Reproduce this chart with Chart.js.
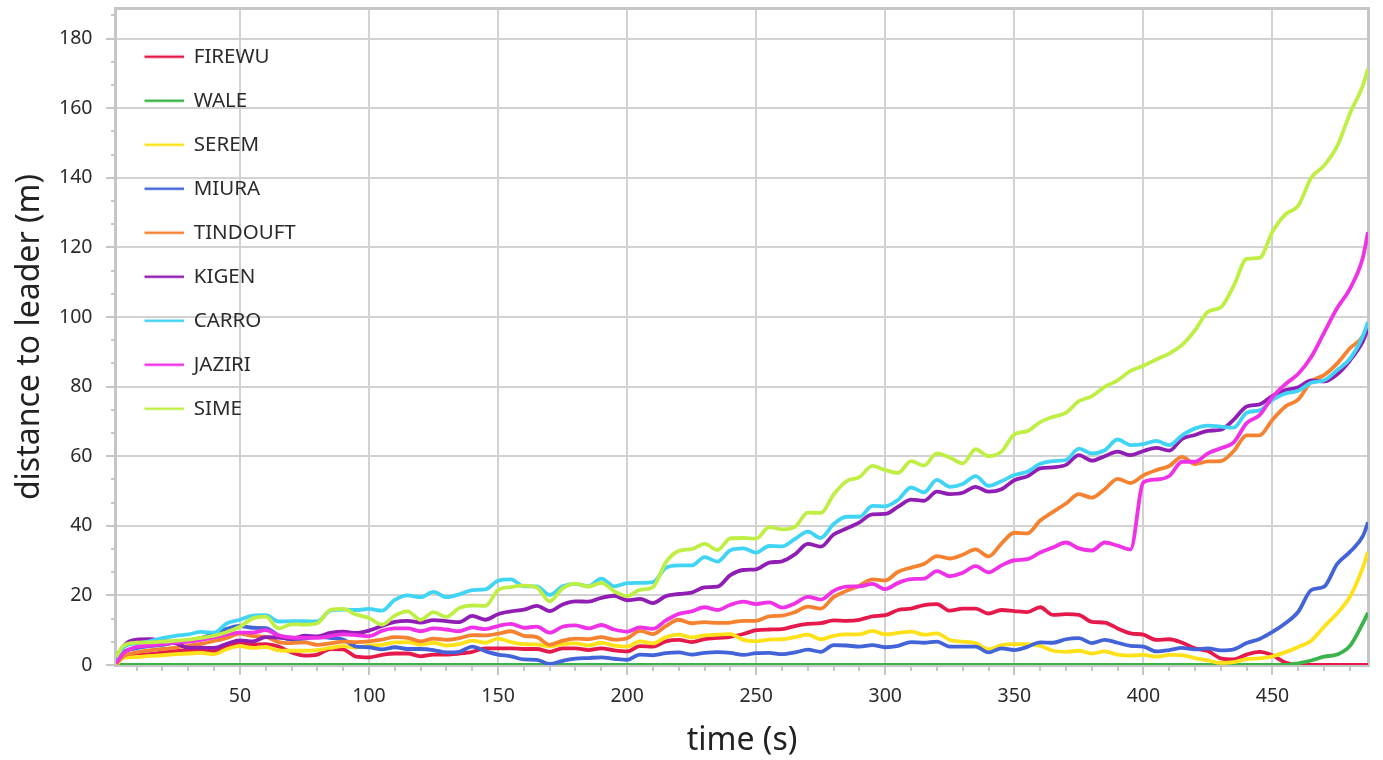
<!DOCTYPE html>
<html>
<head>
<meta charset="utf-8">
<script src="https://cdn.jsdelivr.net/npm/chart.js@4.4.1/dist/chart.umd.min.js"></script>
<style>
  html, body { margin: 0; padding: 0; background: #ffffff; }
  #wrap { width: 1383px; height: 760px; }
</style>
</head>
<body>
<div id="wrap"><canvas id="c" width="1383" height="760"></canvas></div>
<script>
// ---- data (time in s, distance to leader in m) ----
const times = [2, 5, 10, 15, 20, 25, 30, 35, 40, 45,
  50, 55, 60, 65, 70, 75, 80, 85, 90, 95,
  100, 105, 110, 115, 120, 125, 130, 135, 140, 145,
  150, 155, 160, 165, 170, 175, 180, 185, 190, 195,
  200, 205, 210, 215, 220, 225, 230, 235, 240, 245,
  250, 255, 260, 265, 270, 275, 280, 285, 290, 295,
  300, 305, 310, 315, 320, 325, 330, 335, 340, 345,
  350, 355, 360, 365, 370, 375, 380, 385, 390, 395,
  400, 405, 410, 415, 420, 425, 430, 435, 440, 445,
  450, 455, 460, 465, 470, 475, 480, 485, 487];

const FIREWU = [0.5, 2.5, 2.8, 3.1, 3.6, 4.0, 4.2, 4.4, 4.0, 5.2,
  6.5, 5.8, 6.0, 5.3, 3.6, 2.7, 3.0, 4.6, 4.5, 2.4,
  2.2, 2.9, 3.3, 3.3, 2.5, 3.0, 3.0, 3.3, 3.8, 4.8,
  4.8, 4.8, 4.6, 4.6, 3.8, 4.8, 4.8, 4.3, 4.8, 4.2,
  3.9, 5.4, 5.3, 6.8, 7.2, 6.6, 7.4, 7.8, 8.1, 8.9,
  10.0, 10.2, 10.3, 11.2, 11.8, 12.0, 12.8, 12.7, 13.0, 14.0,
  14.3, 15.8, 16.2, 17.2, 17.5, 15.6, 16.2, 16.2, 14.8, 15.8,
  15.5, 15.2, 16.6, 14.4, 14.6, 14.4, 12.4, 12.2, 10.5, 9.1,
  8.7, 7.2, 7.4, 6.4, 4.8, 4.0, 1.9, 1.6, 3.0, 3.8,
  2.8, 0.7, 0, 0, 0, 0, 0, 0, 0];

const WALE = [0, 0, 0, 0, 0, 0, 0, 0, 0, 0,
  0, 0, 0, 0, 0, 0, 0, 0, 0, 0,
  0, 0, 0, 0, 0, 0, 0, 0, 0, 0,
  0, 0, 0, 0, 0, 0, 0, 0, 0, 0,
  0, 0, 0, 0, 0, 0, 0, 0, 0, 0,
  0, 0, 0, 0, 0, 0, 0, 0, 0, 0,
  0, 0, 0, 0, 0, 0, 0, 0, 0, 0,
  0, 0, 0, 0, 0, 0, 0, 0, 0, 0,
  0, 0, 0, 0, 0, 0, 0, 0, 0, 0,
  0, 0, 0.5, 1.3, 2.4, 3.0, 5.5, 12.0, 15.0];

const SEREM = [0.0, 2.1, 2.3, 2.6, 2.8, 3.1, 3.3, 3.5, 3.1, 4.6,
  5.4, 4.9, 5.2, 4.2, 4.1, 4.1, 4.3, 4.9, 5.4, 5.0,
  5.6, 5.8, 6.5, 6.6, 5.8, 6.4, 5.6, 6.0, 7.0, 6.4,
  7.6, 6.6, 6.0, 5.9, 5.3, 6.0, 6.2, 5.6, 6.4, 5.6,
  5.3, 6.8, 6.2, 8.0, 8.7, 7.9, 8.5, 8.7, 8.9, 7.2,
  6.8, 7.3, 7.4, 8.0, 8.7, 7.4, 8.4, 8.8, 8.8, 9.8,
  8.8, 9.2, 9.6, 8.7, 9.1, 7.2, 6.7, 6.3, 4.5, 5.7,
  6.0, 6.0, 5.5, 4.1, 3.8, 4.1, 3.3, 3.9, 3.0, 2.7,
  2.9, 2.4, 2.9, 2.8, 2.0, 1.3, 0.6, 0.8, 1.7, 1.9,
  2.5, 3.7, 5.2, 7.0, 11.0, 14.8, 19.6, 28.0, 32.5];

const MIURA = [1.0, 3.8, 4.8, 5.4, 5.8, 6.5, 7.0, 7.8, 9.0, 10.4,
  11.2, 10.7, 10.6, 8.5, 7.3, 7.6, 8.1, 7.8, 7.3, 5.3,
  5.1, 4.5, 5.1, 4.6, 4.6, 4.3, 3.6, 3.8, 5.3, 4.0,
  3.0, 2.5, 1.6, 1.5, 0.3, 1.2, 1.8, 2.0, 2.2, 1.8,
  1.5, 3.0, 2.8, 3.4, 3.6, 3.0, 3.5, 3.7, 3.5, 2.9,
  3.4, 3.5, 3.1, 3.6, 4.4, 3.8, 5.7, 5.6, 5.3, 5.7,
  5.1, 5.5, 6.6, 6.4, 6.7, 5.3, 5.3, 5.3, 3.6, 4.8,
  4.3, 5.2, 6.5, 6.4, 7.4, 7.7, 6.3, 7.2, 6.4, 5.5,
  5.3, 3.9, 4.3, 4.9, 4.5, 4.8, 4.2, 4.5, 6.3, 7.5,
  9.5, 12.0, 15.3, 21.5, 22.5, 29.0, 32.5, 37.0, 41.0];

const TINDOUFT = [0.3, 2.6, 3.6, 4.2, 4.6, 5.0, 5.6, 6.1, 6.9, 7.8,
  9.0, 8.3, 8.1, 6.6, 6.3, 6.5, 5.8, 6.2, 6.7, 6.6,
  6.8, 7.3, 8.0, 7.8, 6.8, 7.6, 7.2, 7.7, 8.6, 8.5,
  9.0, 9.7, 8.4, 8.0, 5.8, 7.0, 7.6, 7.4, 8.0, 7.3,
  7.7, 9.8, 8.9, 11.2, 13.0, 12.0, 12.3, 12.1, 12.2, 12.7,
  12.7, 14.0, 14.2, 15.2, 16.8, 16.2, 19.5, 21.3, 22.8, 24.6,
  24.3, 26.8, 28.0, 29.0, 31.3, 30.6, 31.7, 33.2, 31.2, 34.9,
  38.0, 37.8, 41.5, 44.0, 46.4, 49.1, 48.1, 50.5, 53.5, 52.3,
  54.5, 56.0, 57.2, 59.8, 57.7, 58.5, 58.6, 61.5, 66.0, 66.0,
  70.5, 74.3, 76.3, 81.5, 83.3, 86.6, 91.0, 94.5, 98.0];

const KIGEN = [1.0, 5.5, 7.3, 7.4, 6.9, 6.3, 5.0, 5.0, 4.9, 6.1,
  7.1, 6.8, 8.0, 7.9, 7.5, 8.4, 8.2, 9.2, 9.6, 9.2,
  9.9, 11.2, 12.4, 12.7, 12.2, 12.9, 12.6, 12.3, 14.1, 13.0,
  14.6, 15.4, 15.9, 17.0, 15.5, 17.4, 18.3, 18.2, 19.3, 19.9,
  18.6, 19.0, 17.8, 19.8, 20.4, 20.8, 22.3, 22.5, 25.8, 27.3,
  27.5, 29.4, 29.8, 31.8, 34.8, 34.0, 37.5, 39.2, 41.0, 43.3,
  43.4, 45.5, 47.5, 47.2, 49.8, 49.1, 49.5, 51.2, 49.8, 50.5,
  53.1, 54.2, 56.5, 56.8, 57.5, 60.3, 58.7, 60.0, 61.3, 60.3,
  61.5, 62.4, 61.6, 65.0, 66.1, 67.3, 67.6, 70.5, 74.3, 74.9,
  77.3, 79.0, 79.8, 81.8, 81.5, 83.5, 87.5, 93.0, 96.7];

const CARRO = [1.5, 5.2, 6.2, 6.8, 7.7, 8.4, 8.8, 9.5, 9.3, 12.0,
  13.0, 14.2, 14.3, 12.5, 12.6, 12.6, 12.5, 15.6, 15.9, 15.8,
  16.1, 15.6, 18.7, 20.0, 19.5, 21.0, 19.5, 20.3, 21.5, 21.7,
  24.2, 24.6, 22.6, 22.6, 20.1, 22.6, 23.3, 22.6, 24.8, 22.6,
  23.5, 23.6, 23.8, 27.9, 28.6, 28.6, 31.0, 29.7, 33.0, 33.5,
  32.3, 34.2, 34.1, 36.2, 38.3, 36.5, 40.5, 42.6, 42.6, 45.7,
  45.6, 47.5, 51.0, 49.6, 53.2, 51.2, 52.0, 54.3, 51.5, 52.8,
  54.6, 55.5, 57.8, 58.6, 58.9, 62.2, 60.8, 61.7, 64.8, 63.2,
  63.5, 64.4, 63.2, 66.0, 68.0, 68.8, 68.5, 68.2, 72.5, 73.2,
  76.2, 78.0, 78.8, 81.1, 81.8, 84.7, 88.0, 94.5, 98.6];

const JAZIRI = [0.5, 3.5, 5.2, 5.6, 6.0, 6.4, 6.7, 7.2, 7.9, 8.8,
  9.3, 9.3, 10.0, 8.5, 7.9, 7.8, 7.8, 8.3, 8.8, 8.6,
  8.3, 9.8, 10.5, 10.5, 9.7, 10.5, 10.2, 9.7, 10.8, 10.3,
  11.2, 11.8, 10.7, 11.0, 9.3, 11.0, 11.4, 10.5, 11.5, 10.2,
  9.6, 10.8, 10.4, 12.8, 14.7, 15.4, 16.6, 15.8, 17.3, 18.2,
  17.5, 18.0, 16.5, 17.7, 19.6, 18.8, 21.3, 22.5, 22.6, 23.3,
  21.8, 23.6, 24.7, 24.8, 27.0, 25.5, 26.5, 28.4, 26.6, 28.6,
  30.1, 30.4, 32.3, 33.8, 35.2, 33.5, 32.9, 35.2, 34.3, 33.2,
  52.5, 53.3, 54.3, 58.4, 58.4, 60.8, 62.3, 64.0, 69.5, 71.8,
  77.0, 80.7, 83.7, 88.5, 95.5, 102.5, 108.1, 117.0, 124.4];

const SIME = [2.4, 5.6, 6.4, 6.5, 6.7, 7.0, 7.3, 7.8, 8.4, 9.5,
  11.0, 13.4, 13.9, 10.5, 11.7, 11.6, 12.0, 15.8, 16.1, 14.5,
  13.5, 11.6, 14.2, 15.4, 13.0, 15.2, 13.8, 16.4, 17.1, 17.0,
  21.5, 22.4, 22.8, 22.3, 18.3, 22.0, 23.4, 22.5, 23.6, 21.2,
  19.8, 21.6, 22.4, 29.5, 32.8, 33.3, 34.8, 33.0, 36.4, 36.5,
  36.3, 39.6, 39.0, 39.7, 43.8, 43.7, 49.0, 52.8, 54.0, 57.2,
  56.0, 55.2, 58.6, 57.3, 60.8, 59.6, 57.9, 62.0, 60.0, 61.3,
  66.3, 67.2, 69.8, 71.3, 72.5, 75.8, 77.2, 79.9, 81.8, 84.5,
  86.0, 87.8, 89.5, 92.0, 96.2, 101.5, 102.8, 109.0, 116.7, 117.0,
  124.5, 129.5, 132.0, 140.0, 143.5, 149.0, 158.5, 166.5, 171.3];

const seriesNames = ['FIREWU', 'WALE', 'SEREM', 'MIURA', 'TINDOUFT', 'KIGEN', 'CARRO', 'JAZIRI', 'SIME'];
const seriesValues = [FIREWU, WALE, SEREM, MIURA, TINDOUFT, KIGEN, CARRO, JAZIRI, SIME];
const seriesColors = ['#e6194b', '#3cb44b', '#ffe119', '#4363d8', '#f58231', '#911eb4', '#42d4f4', '#f032e6', '#bfef45'];

const xTitle = 'time (s)';
const yTitle = 'distance to leader (m)';

// ---- styling ----
const FONT = "'Noto Sans', 'DejaVu Sans', sans-serif";
const GRID = '#d2d2d2';
const FRAME = '#c6c6c6';
const TEXT = '#2b2b2b';

function swatch(color) {
  const c = document.createElement('canvas');
  c.width = 44; c.height = 6;
  const g = c.getContext('2d');
  g.strokeStyle = color; g.lineWidth = 2.4;
  g.beginPath(); g.moveTo(5, 3); g.lineTo(44, 3); g.stroke();
  return c;
}

const framePlugin = {
  id: 'frame',
  beforeDatasetsDraw(chart) {
    const { ctx, chartArea: a, scales: { x, y } } = chart;
    ctx.save();
    ctx.strokeStyle = FRAME;
    ctx.lineWidth = 2;
    ctx.beginPath();
    for (let v = Math.ceil(x.min / 10) * 10; v <= x.max; v += 10) {
      if (v % 50 === 0) continue;
      const px = Math.round(x.getPixelForValue(v));
      ctx.moveTo(px, a.bottom); ctx.lineTo(px, a.bottom + 6);
    }
    for (let k = 1; k * 20 / 3 <= y.max; k++) {
      if (k % 3 === 0) continue;
      const py = Math.round(y.getPixelForValue(k * 20 / 3));
      ctx.moveTo(a.left - 5, py); ctx.lineTo(a.left, py);
    }
    ctx.stroke();
    ctx.lineWidth = 3;
    ctx.strokeRect(a.left - 0.5, a.top - 0.5, a.right - a.left + 1, a.bottom - a.top + 1);
    ctx.restore();
  }
};

const datasets = seriesNames.map((name, i) => ({
  label: name,
  data: times.map((t, k) => ({ x: t, y: seriesValues[i][k] })),
  borderColor: seriesColors[i],
  backgroundColor: seriesColors[i],
  borderWidth: 3.8,
  pointRadius: 0,
  pointHoverRadius: 0,
  fill: false,
  cubicInterpolationMode: 'monotone',
  order: -i
}));

new Chart(document.getElementById('c'), {
  type: 'line',
  data: { datasets },
  plugins: [framePlugin],
  options: {
    responsive: false,
    animation: false,
    events: [],
    layout: { padding: { left: 0, top: 9, right: 15, bottom: 0 } },
    plugins: {
      tooltip: { enabled: false },
      legend: {
        position: 'chartArea',
        align: 'start',
        title: { display: true, text: ' ', font: { size: 10, lineHeight: 1.2 }, padding: { top: 0, bottom: 11 } },
        labels: {
          usePointStyle: true,
          pointStyleWidth: 44,
          padding: 23.5,
          color: TEXT,
          font: { family: FONT, size: 20.5 },
          generateLabels(chart) {
            const items = Chart.defaults.plugins.legend.labels.generateLabels(chart);
            items.sort((a, b) => a.datasetIndex - b.datasetIndex);
            items.forEach(it => { it.pointStyle = swatch(seriesColors[it.datasetIndex]); });
            return items;
          }
        }
      }
    },
    scales: {
      x: {
        type: 'linear',
        min: 2,
        max: 487,
        afterFit(s) { s.height = 95; s.paddingLeft = 0; s.paddingRight = 0; },
        ticks: { stepSize: 50, includeBounds: false, padding: 10, color: TEXT, font: { family: FONT, size: 19.5 }, maxRotation: 0, autoSkip: false },
        grid: { color: GRID, lineWidth: 2, drawTicks: true, tickLength: 10, tickColor: FRAME, tickWidth: 2 },
        border: { display: false },
        title: { display: true, text: xTitle, color: '#222', font: { family: FONT, size: 32, lineHeight: 1 }, padding: { top: 0, bottom: 3 } }
      },
      y: {
        type: 'linear',
        min: 0,
        max: 188.5,
        afterFit(s) { s.width = 116; s.paddingTop = 0; s.paddingBottom = 0; },
        ticks: { stepSize: 20, includeBounds: false, padding: 13.5, color: TEXT, font: { family: FONT, size: 19.5 } },
        grid: { color: GRID, lineWidth: 2, drawTicks: true, tickLength: 10, tickColor: FRAME, tickWidth: 2 },
        border: { display: false },
        title: { display: true, text: yTitle, color: '#222', font: { family: FONT, size: 32, lineHeight: 1 }, padding: { top: 14, bottom: 0 } }
      }
    }
  }
});
</script>
</body>
</html>
